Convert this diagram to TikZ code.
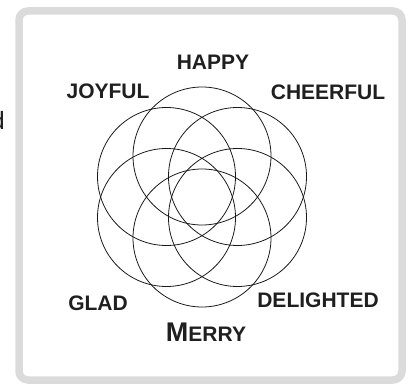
\documentclass[tikz,border=0pt]{standalone}
\usepackage{fontspec}
\setmainfont{Liberation Sans}
\usetikzlibrary{positioning}

\begin{document}
\begin{tikzpicture}[
    x=1pt, y=-1pt,
    % Styles
    petal/.style={circle, draw=black!90, line width=0.8pt, minimum size=138pt, inner sep=0pt},
    word/.style={font=\bfseries\fontsize{21}{24}\selectfont, text=black!88, inner sep=0pt},
    frame/.style={draw=black!14, line width=7.5pt, rounded corners=9pt}
]
\useasboundingbox (0,0) rectangle (412,385);

% ------------------- FRAME -------------------
\draw[frame] (19,11) rectangle (402,380);
\node[font=\fontsize{25}{28}\selectfont, text=black!88, inner sep=0pt, anchor=base east] (cut) at (5,130) {d};

% ------------------- FLOWER -------------------
\coordinate (ctr) at (202,197);
\node[petal] (pHappy)  at ([shift={(0,-41)}]ctr) {};
\node[petal] (pCheer)  at ([shift={(35.5,-20.5)}]ctr) {};
\node[petal] (pDelight) at ([shift={(35.5,20.5)}]ctr) {};
\node[petal] (pMerry)  at ([shift={(0,41)}]ctr) {};
\node[petal] (pGlad)   at ([shift={(-35.5,20.5)}]ctr) {};
\node[petal] (pJoy)    at ([shift={(-35.5,-20.5)}]ctr) {};

% ------------------- LABELS -------------------
\node[word] (happy) at (213,62) {HAPPY};
\node[word] (joyful) at (108,91) {JOYFUL};
\node[word] (cheerful) at (328,92) {CHEERFUL};
\node[word] (glad) at (98,303) {GLAD};
\node[word] (delighted) at (318,300) {DELIGHTED};
\node[word] (merry) at (206,332) {{\fontsize{27}{30}\selectfont M}ERRY};

\end{tikzpicture}
\end{document}
